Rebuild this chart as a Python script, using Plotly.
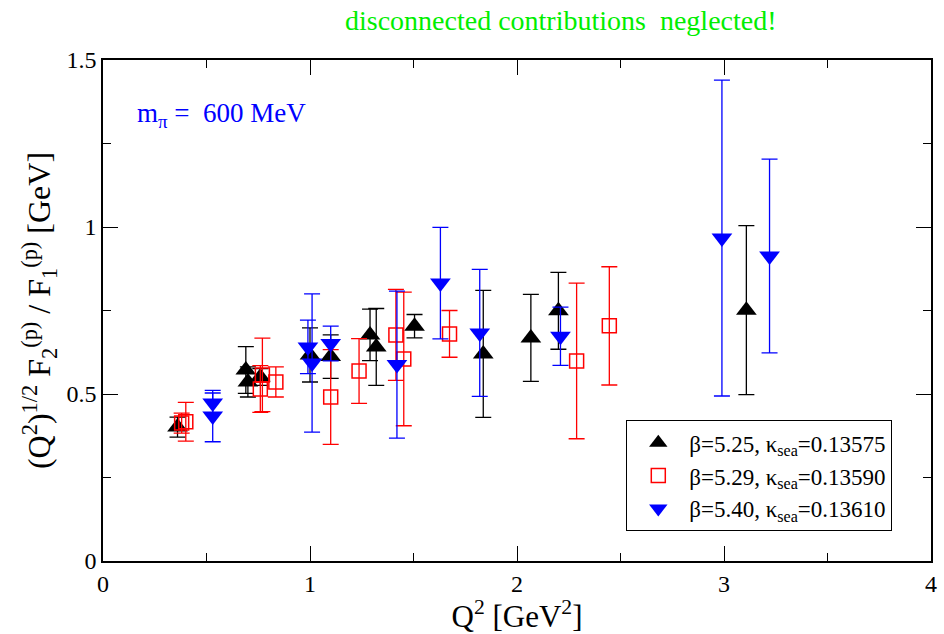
import plotly.graph_objects as go

# beta=5.25, kappa_sea=0.13575 (black up-triangles)
x_525 = [0.36, 0.69, 0.70, 0.76, 1.00, 1.10, 1.29, 1.32, 1.505, 1.837, 2.067, 2.20, 3.108]
y_525 = [0.401, 0.572, 0.536, 0.551, 0.617, 0.612, 0.677, 0.641, 0.703, 0.62, 0.668, 0.749, 0.751]
e_525 = [0.03, 0.07, 0.045, 0.025, 0.081, 0.065, 0.077, 0.115, 0.035, 0.19, 0.13, 0.115, 0.253]

# beta=5.29, kappa_sea=0.13590 (red open squares)
x_529 = [0.38, 0.40, 0.76, 0.77, 0.835, 1.10, 1.237, 1.415, 1.453, 1.674, 2.288, 2.446]
y_529 = [0.413, 0.417, 0.515, 0.557, 0.536, 0.491, 0.569, 0.677, 0.605, 0.680, 0.599, 0.704]
e_529 = [0.03, 0.058, 0.07, 0.11, 0.045, 0.142, 0.097, 0.136, 0.20, 0.07, 0.233, 0.177]

# beta=5.40, kappa_sea=0.13610 (blue down-triangles)
x_540 = [0.53, 0.53, 0.99, 1.01, 1.10, 1.42, 1.63, 1.82, 2.21, 2.99, 3.22]
y_540 = [0.473, 0.434, 0.641, 0.593, 0.651, 0.588, 0.832, 0.683, 0.673, 0.967, 0.913]
e_540 = [0.03, 0.077, 0.08, 0.207, 0.052, 0.22, 0.167, 0.19, 0.087, 0.473, 0.29]

names = ["β=5.25, κ<sub>sea</sub>=0.13575",
         "β=5.29, κ<sub>sea</sub>=0.13590",
         "β=5.40, κ<sub>sea</sub>=0.13610"]

SERIF = "Liberation Serif, Times New Roman, serif"

fig = go.Figure()

def add(xs, ys, es, name, color, symbol, size, lw):
    fig.add_trace(go.Scatter(
        x=xs, y=ys, mode="markers", name=name,
        marker=dict(symbol=symbol, size=size, color=color,
                    line=dict(color=color, width=lw)),
        error_y=dict(type="data", array=es, visible=True, color=color,
                     thickness=1.3, width=8),
    ))

add(x_525, y_525, e_525, names[0], "black", "triangle-up", 18, 0)
add(x_529, y_529, e_529, names[1], "red", "square-open", 14, 1.5)
add(x_540, y_540, e_540, names[2], "blue", "triangle-down", 18, 0)

axis_common = dict(
    showline=True, linecolor="black", linewidth=1.5, mirror="ticks",
    ticks="inside", ticklen=15, tickwidth=1, tickcolor="black",
    showgrid=False, zeroline=False,
    tickfont=dict(family=SERIF, size=24, color="black"),
)

fig.update_layout(
    width=944, height=634,
    margin=dict(l=103, r=7, t=60, b=73),
    paper_bgcolor="white", plot_bgcolor="white",
    font=dict(family=SERIF),
    showlegend=True,
    legend=dict(x=0.632, y=0.281, xanchor="left", yanchor="top",
                bordercolor="black", borderwidth=1, bgcolor="white",
                font=dict(family=SERIF, size=23, color="black"),
                itemwidth=52),
    xaxis=dict(range=[0, 4], dtick=1, tick0=0,
               minor=dict(dtick=0.5, ticklen=8, ticks="inside", tickcolor="black"),
               title=dict(text="Q<sup>2</sup> [GeV<sup>2</sup>]",
                          font=dict(family=SERIF, size=31, color="black"),
                          standoff=0),
               **axis_common),
    yaxis=dict(range=[0, 1.5], dtick=0.5, tick0=0,
               minor=dict(dtick=0.25, ticklen=8, ticks="inside", tickcolor="black"),
               title=dict(text="(Q<sup>2</sup>)<sup>1/2</sup> F<sub>2</sub><sup>(p)</sup> / F<sub>1</sub><sup>(p)</sup> [GeV]",
                          font=dict(family=SERIF, size=32, color="black"),
                          standoff=6),
               **axis_common),
)

fig.add_annotation(text="disconnected contributions  neglected!",
                   xref="paper", yref="paper", x=(564 - 103) / 834, y=1 + (60 - 20) / 501,
                   showarrow=False, xanchor="center", yanchor="middle",
                   font=dict(family=SERIF, size=28, color="#00ee00"))
fig.add_annotation(text="m<sub>π</sub> =  600 MeV",
                   xref="paper", yref="paper", x=(135 - 103) / 834, y=(561 - 115) / 501,
                   showarrow=False, xanchor="left", yanchor="middle",
                   font=dict(family=SERIF, size=27, color="blue"))

fig.write_html("out.html")
